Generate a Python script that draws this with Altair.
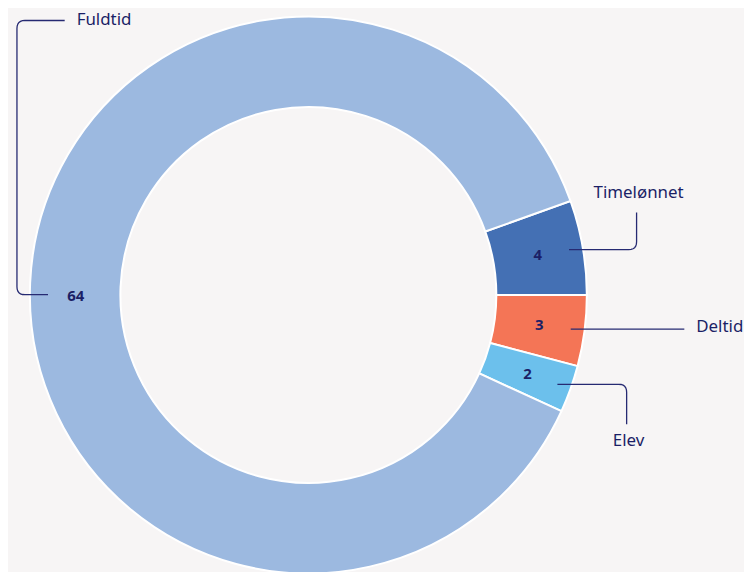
import math
import altair as alt
import pandas as pd

# ---- data ----
categories = ["Timelønnet", "Deltid", "Elev", "Fuldtid"]
values = [4, 3, 2, 64]
colors = ["#4470b4", "#f47556", "#6cc0ec", "#9cb9e0"]

# ---- layout ----
W, H = 736, 556
CX, CY = 302, 287
R_OUT, R_IN = 280, 189
R_LABEL = 234
R_CONN = 266
total = sum(values)
start_deg = 90 - values[0] / total * 360
start = math.radians(start_deg)

df = pd.DataFrame({"cat": categories, "value": values, "idx": range(len(values))})
df["dy"] = [0, 0, 0, 11]

# connector geometry derived from the slice mid-angles
mids = []
acc = start_deg
for v in values:
    span = v / total * 360
    mids.append(acc + span / 2)
    acc += span


def polar(deg, r):
    a = math.radians(deg)
    return CX + r * math.sin(a), CY - r * math.cos(a)


# elbow routes (layout) per label: list of way-points after the start point
routes = {
    "Timelønnet": [("x", 632), ("y", 204)],
    "Deltid": [("x", 680)],
    "Elev": [("x", 622), ("y", 417)],
    "Fuldtid": [("x", 9), ("y", 11), ("x", 57)],
}
label_pos = {
    "Timelønnet": (634, 184, "center"),
    "Deltid": (692, 319, "left"),
    "Elev": (624, 434, "center"),
    "Fuldtid": (69, 11, "left"),
}


def rounded(points, rad=8, n=6):
    out = [points[0]]
    for i in range(1, len(points) - 1):
        p0, p1, p2 = points[i - 1], points[i], points[i + 1]
        d1 = math.hypot(p1[0] - p0[0], p1[1] - p0[1])
        d2 = math.hypot(p2[0] - p1[0], p2[1] - p1[1])
        r = min(rad, d1 / 2, d2 / 2)
        a = (p1[0] + (p0[0] - p1[0]) * r / d1, p1[1] + (p0[1] - p1[1]) * r / d1)
        b = (p1[0] + (p2[0] - p1[0]) * r / d2, p1[1] + (p2[1] - p1[1]) * r / d2)
        for k in range(n + 1):
            t = k / n
            x = (1 - t) ** 2 * a[0] + 2 * (1 - t) * t * p1[0] + t ** 2 * b[0]
            y = (1 - t) ** 2 * a[1] + 2 * (1 - t) * t * p1[1] + t ** 2 * b[1]
            out.append((x, y))
    out.append(points[-1])
    return out


rows = []
for cat, mid, dy in zip(categories, mids, df["dy"]):
    if cat == "Fuldtid":
        sx, sy = polar(mid, 262)
        sy += dy
    else:
        sx, sy = polar(mid, R_CONN)
    pts = [(sx, sy)]
    cx, cy = sx, sy
    for axis, val in routes[cat]:
        if axis == "x":
            cx = val
        else:
            cy = val
        pts.append((cx, cy))
    for j, (x, y) in enumerate(rounded(pts)):
        rows.append({"cat": cat, "o": j, "x": x, "y": y})
conn = pd.DataFrame(rows)

labels = pd.DataFrame(
    [{"cat": c, "x": label_pos[c][0], "y": label_pos[c][1], "al": label_pos[c][2]} for c in categories]
)

xs = alt.Scale(domain=[0, W], range=[0, W], nice=False, zero=False)
ys = alt.Scale(domain=[0, H], range=[0, H], nice=False, zero=False)
theta_scale = alt.Scale(domain=[0, total], range=[start, start + 2 * math.pi])

arcs = alt.Chart(df).mark_arc(
    innerRadius=R_IN, outerRadius=R_OUT, stroke="white", strokeWidth=2
).encode(
    theta=alt.Theta("value:Q", stack=True, scale=theta_scale),
    order=alt.Order("idx:Q"),
    color=alt.Color("cat:N", scale=alt.Scale(domain=categories, range=colors), legend=None),
    x=alt.value(CX),
    y=alt.value(CY),
)

num_base = alt.Chart(df).transform_stack(
    stack="value", groupby=[], as_=["v0", "v1"], sort=[alt.SortField("idx", order="ascending")]
).transform_calculate(
    mid="(datum.v0 + datum.v1) / 2"
).encode(
    theta=alt.Theta("mid:Q", stack=None, scale=theta_scale),
    text=alt.Text("value:Q"),
    x=alt.value(CX),
    y=alt.value(CY),
)
nums = num_base.mark_text(
    radius=R_LABEL, font="Noto Sans", fontSize=15, fontWeight="bold", color="#1b1f66"
).transform_filter("datum.dy == 0")
nums_big = num_base.mark_text(
    radius=R_LABEL, dy=11, font="Noto Sans", fontSize=15, fontWeight="bold", color="#1b1f66"
).transform_filter("datum.dy != 0")

lines = alt.Chart(conn).mark_line(color="#262a72", strokeWidth=1.3).encode(
    x=alt.X("x:Q", scale=xs, axis=None),
    y=alt.Y("y:Q", scale=ys, axis=None),
    detail="cat:N",
    order="o:Q",
)

names_left = alt.Chart(labels[labels["al"] == "left"]).mark_text(
    align="left", baseline="middle", font="Noto Sans", fontSize=17, color="#1b1f66"
).encode(
    x=alt.X("x:Q", scale=xs, axis=None),
    y=alt.Y("y:Q", scale=ys, axis=None),
    text="cat:N",
)
names_center = alt.Chart(labels[labels["al"] == "center"]).mark_text(
    align="center", baseline="middle", font="Noto Sans", fontSize=17, color="#1b1f66"
).encode(
    x=alt.X("x:Q", scale=xs, axis=None),
    y=alt.Y("y:Q", scale=ys, axis=None),
    text="cat:N",
)

chart = alt.layer(arcs, lines, nums, nums_big, names_left, names_center).properties(
    width=W, height=H, padding=0, background="#f7f5f5"
).configure_view(stroke=None)

chart.save("out.html", embed_options={"renderer": "svg", "actions": False})
